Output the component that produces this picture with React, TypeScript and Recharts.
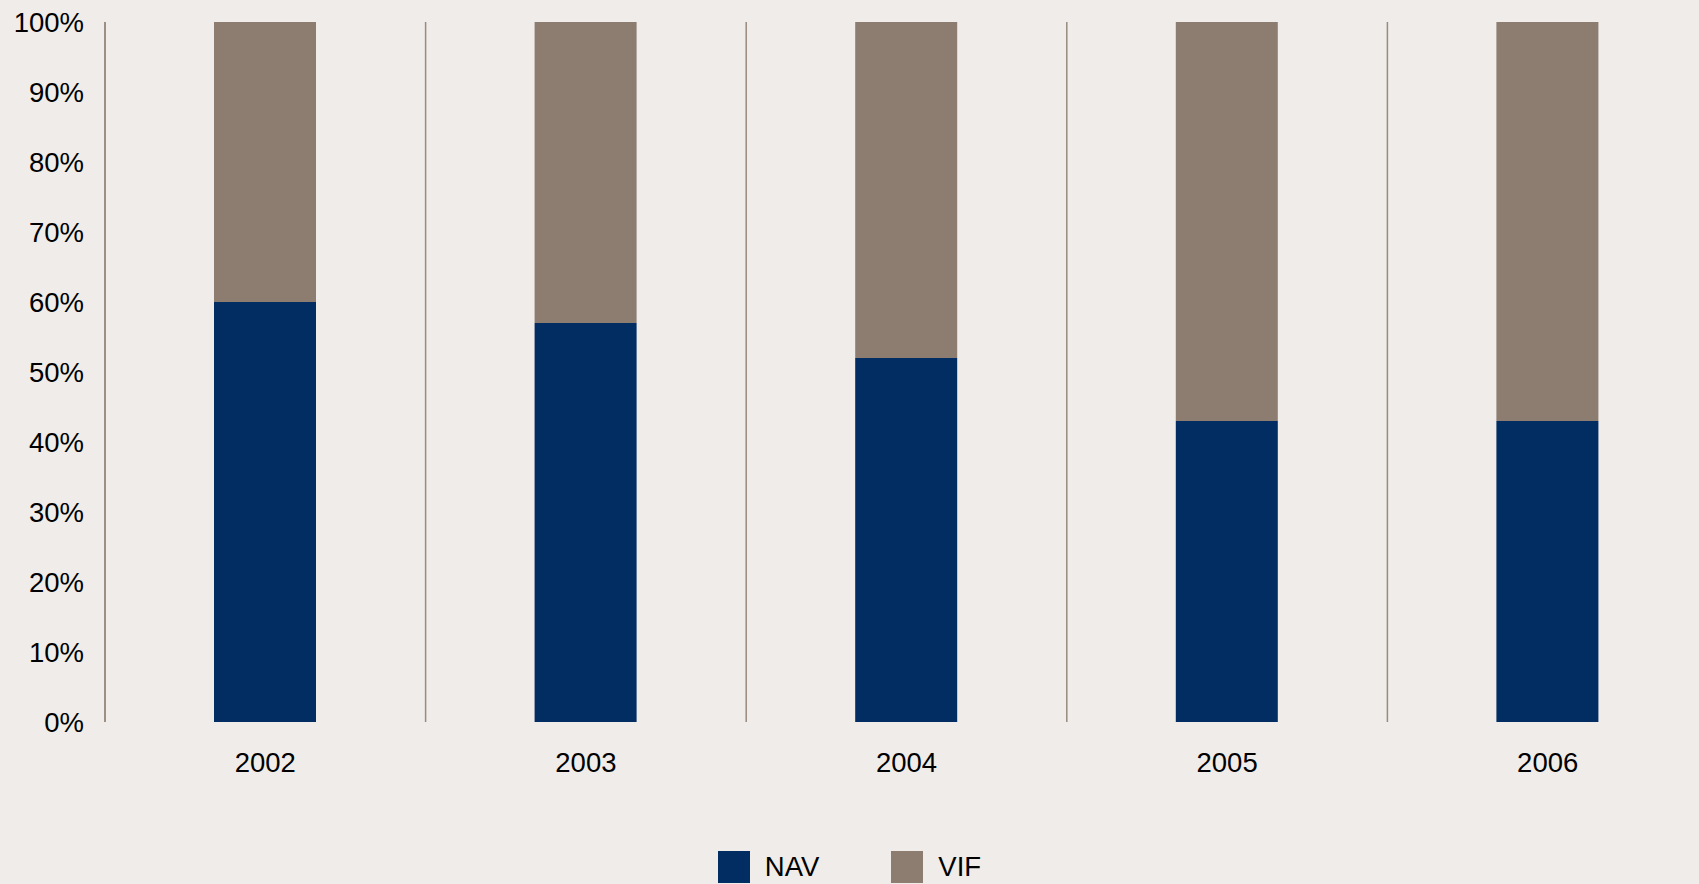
import React from "react";
import {
  Bar,
  BarChart,
  CartesianGrid,
  Legend,
  XAxis,
  YAxis,
} from "recharts";

// share of value, in percent
const years = ["2002", "2003", "2004", "2005", "2006"];
const navShare = [60, 57, 52, 43, 43];
const vifShare = [40, 43, 48, 57, 57];
const yTicks = [0, 10, 20, 30, 40, 50, 60, 70, 80, 90, 100];

const COLORS = {
  nav: "#012d63",
  vif: "#8c7d70",
  divider: "#978a7e",
  bg: "#f0ece9",
  text: "#000000",
};

const FONT = "'Liberation Sans', Arial, sans-serif";
const FONT_SIZE = 27.5;

const data = years.map((year, i) => ({
  year,
  NAV: navShare[i],
  VIF: vifShare[i],
}));

interface LegendItem {
  value?: string;
  color?: string;
}

function LegendContent({ payload }: { payload?: LegendItem[] }) {
  return (
    <div
      style={{
        display: "flex",
        justifyContent: "center",
        alignItems: "center",
        fontFamily: FONT,
        fontSize: FONT_SIZE,
        color: COLORS.text,
      }}
    >
      {(payload || []).map((item, i) => (
        <div
          key={item.value}
          style={{
            display: "flex",
            alignItems: "center",
            marginRight: i === 0 ? 72 : 0,
          }}
        >
          <span
            style={{
              display: "inline-block",
              width: 32,
              height: 32,
              background: item.color,
              marginRight: 15,
            }}
          />
          <span>{item.value}</span>
        </div>
      ))}
    </div>
  );
}

export default function App(): React.ReactElement {
  return (
    <div
      style={{
        position: "absolute",
        left: 0,
        top: 0,
        width: 1699,
        height: 884,
        overflow: "hidden",
        background: COLORS.bg,
      }}
    >
      <BarChart
        width={1711}
        height={884}
        data={data}
        margin={{ top: 22, right: 3, bottom: 0, left: 1 }}
      >
        <CartesianGrid
          horizontal={false}
          stroke={COLORS.divider}
          strokeWidth={1.5}
          verticalCoordinatesGenerator={({ offset }: any) =>
            years.map((_, i) => offset.left + (i * offset.width) / years.length)
          }
        />
        <XAxis
          dataKey="year"
          axisLine={false}
          tickLine={false}
          tickSize={8}
          tickMargin={22}
          height={162}
          tick={{ fill: COLORS.text, fontSize: FONT_SIZE, fontFamily: FONT }}
        />
        <YAxis
          width={104}
          domain={[0, 100]}
          ticks={yTicks}
          interval={0}
          tickFormatter={(v: number) => `${v}%`}
          axisLine={{ stroke: COLORS.divider, strokeWidth: 1.5 }}
          tickLine={false}
          tickSize={6}
          tickMargin={15}
          tick={{ fill: COLORS.text, fontSize: FONT_SIZE, fontFamily: FONT }}
        />
        <Legend
          layout="horizontal"
          verticalAlign="middle"
          align="center"
          content={<LegendContent />}
          wrapperStyle={{ left: 0, top: 851, width: 1699 }}
        />
        <Bar
          dataKey="NAV"
          stackId="a"
          fill={COLORS.nav}
          barSize={102}
          isAnimationActive={false}
        />
        <Bar
          dataKey="VIF"
          stackId="a"
          fill={COLORS.vif}
          barSize={102}
          isAnimationActive={false}
        />
      </BarChart>
    </div>
  );
}
